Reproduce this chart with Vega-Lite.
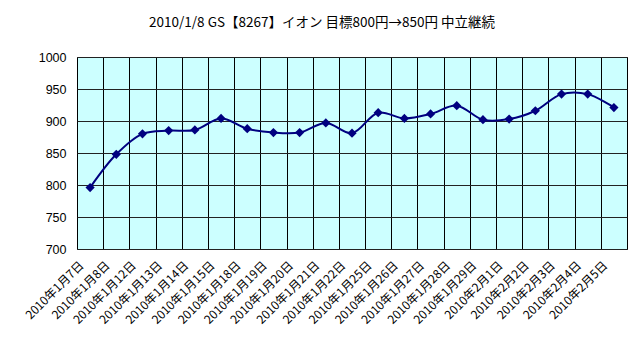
{
  "$schema": "https://vega.github.io/schema/vega-lite/v6.json",
  "autosize": "none",
  "width": 550,
  "height": 192,
  "padding": {"left": 77, "top": 57, "right": 13, "bottom": 103},
  "background": "white",
  "title": {
    "text": "2010/1/8 GS【8267】イオン 目標800円→850円 中立継続",
    "font": "Noto Sans CJK JP",
    "fontSize": 13.5,
    "fontWeight": "normal",
    "color": "black",
    "anchor": "middle",
    "frame": "group",
    "dx": -30,
    "offset": 22
  },
  "data": {
    "values": [
      {"date": "2010年1月7日", "price": 796},
      {"date": "2010年1月8日", "price": 848},
      {"date": "2010年1月12日", "price": 880},
      {"date": "2010年1月13日", "price": 885},
      {"date": "2010年1月14日", "price": 886},
      {"date": "2010年1月15日", "price": 904},
      {"date": "2010年1月18日", "price": 888},
      {"date": "2010年1月19日", "price": 882},
      {"date": "2010年1月20日", "price": 882},
      {"date": "2010年1月21日", "price": 897},
      {"date": "2010年1月22日", "price": 881},
      {"date": "2010年1月25日", "price": 913},
      {"date": "2010年1月26日", "price": 904},
      {"date": "2010年1月27日", "price": 911},
      {"date": "2010年1月28日", "price": 924},
      {"date": "2010年1月29日", "price": 902},
      {"date": "2010年2月1日", "price": 903},
      {"date": "2010年2月2日", "price": 916},
      {"date": "2010年2月3日", "price": 942},
      {"date": "2010年2月4日", "price": 942},
      {"date": "2010年2月5日", "price": 921}
    ]
  },
  "encoding": {
    "x": {
      "field": "date",
      "type": "nominal",
      "sort": null,
      "bandPosition": 0.5,
      "scale": {"type": "band", "paddingInner": 0, "paddingOuter": 0},
      "axis": {
        "title": null,
        "tickBand": "extent",
        "ticks": false,
        "domain": false,
        "grid": true,
        "gridColor": "black",
        "gridOpacity": 1,
        "gridWidth": 1,
        "labelAngle": -45,
        "labelAlign": "right",
        "labelBaseline": "middle",
        "labelPadding": 14,
        "labelOffset": -9,
        "labelFont": "Noto Sans CJK JP",
        "labelFontSize": 12,
        "labelColor": "black"
      }
    },
    "y": {
      "field": "price",
      "type": "quantitative",
      "scale": {"domain": [700, 1000], "nice": false, "zero": false},
      "axis": {
        "title": null,
        "values": [700, 750, 800, 850, 900, 950, 1000],
        "format": "d",
        "ticks": false,
        "domain": false,
        "grid": true,
        "gridColor": "#222222",
        "gridOpacity": 1,
        "gridWidth": 1,
        "labelPadding": 11,
        "labelFont": "Liberation Sans",
        "labelFontSize": 12.5,
        "labelColor": "black"
      }
    }
  },
  "layer": [
    {
      "mark": {"type": "line", "color": "#000080", "strokeWidth": 2, "interpolate": "catmull-rom"}
    },
    {
      "mark": {"type": "point", "shape": "diamond", "filled": true, "color": "#000080", "opacity": 1, "size": 85}
    }
  ],
  "config": {
    "view": {"fill": "#CCFFFF", "stroke": "#333333", "strokeWidth": 1}
  }
}
